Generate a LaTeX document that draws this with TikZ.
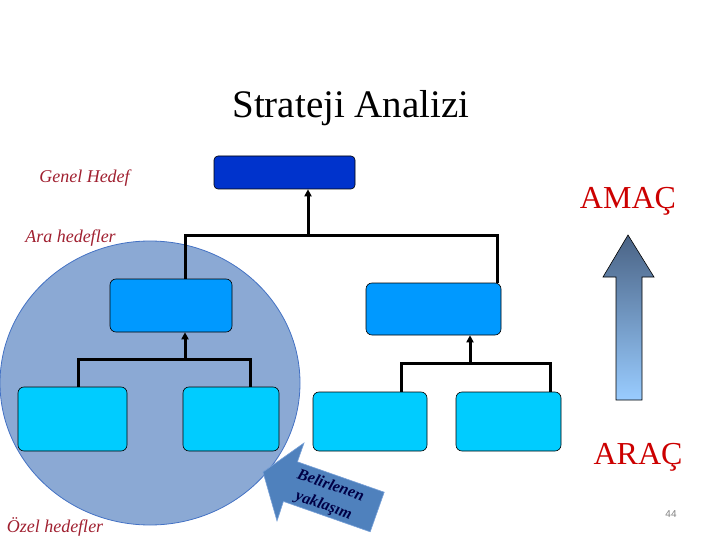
\documentclass[tikz,border=0pt]{standalone}
\usepackage{fontspec}
\setmainfont{Liberation Serif}
\setsansfont{Liberation Sans}
\usetikzlibrary{arrows.meta}
\definecolor{topblue}{RGB}{0,51,204}
\definecolor{midblue}{RGB}{0,153,255}
\definecolor{lowblue}{RGB}{0,204,255}
\definecolor{circfill}{RGB}{139,169,212}
\definecolor{circline}{RGB}{68,114,196}
\definecolor{labred}{RGB}{160,32,48}
\definecolor{bigred}{RGB}{204,0,0}
\definecolor{yakfill}{RGB}{79,129,189}
\definecolor{yakline}{RGB}{120,160,215}
\definecolor{yaktext}{RGB}{0,0,70}
\definecolor{shadetop}{RGB}{74,99,133}
\definecolor{shadebot}{RGB}{153,204,255}

\begin{document}
\begin{tikzpicture}[x=1pt,y=-1pt]
  \tikzstyle{goal}=[draw,line width=0.6pt,rounded corners=6pt,inner sep=0pt]
  \tikzstyle{lab}=[font=\fontsize{18}{20}\selectfont\itshape,text=labred,anchor=base]
  \tikzstyle{big}=[font=\fontsize{32}{36}\selectfont,text=bigred,anchor=base]
  \tikzstyle{conn}=[line width=3pt]
  \tikzstyle{up}=[conn,-{Triangle[width=7pt,length=7pt]}]
  \useasboundingbox (0,0) rectangle (720,540);
  % background circle round the lower goals
  \draw [fill=circfill,draw=circline,line width=0.8pt] (150,383) ellipse [x radius=150,y radius=142];
  \node [font=\fontsize{39}{44}\selectfont,anchor=base] (title) at (351,118) {Strateji Analizi};
  \node [lab] (genel) at (84.5,183) {Genel Hedef};
  \node [lab] (ara) at (70.5,243) {Ara hedefler};
  \node [lab] (ozel) at (55,532) {Özel hedefler};
  \node [big] (amac) at (628,208) {AMAÇ};
  \node [big] (arac) at (638,464) {ARAÇ};
  \node [font=\sffamily\fontsize{10}{12}\selectfont,text=gray] (page) at (671,514) {44};
  % goal boxes
  \node [goal,fill=topblue,rounded corners=4pt,minimum width=141pt,minimum height=33pt] (top) at (284.5,172.5) {};
  \node [goal,fill=midblue,minimum width=122pt,minimum height=53pt] (midL) at (171,305.5) {};
  \node [goal,fill=midblue,minimum width=135pt,minimum height=52pt] (midR) at (433.5,309) {};
  \node [goal,fill=lowblue,minimum width=109pt,minimum height=64pt] (lowA) at (72.5,419) {};
  \node [goal,fill=lowblue,minimum width=96pt,minimum height=64pt] (lowB) at (231,419) {};
  \node [goal,fill=lowblue,minimum width=114pt,minimum height=59pt] (lowC) at (370,421.5) {};
  \node [goal,fill=lowblue,minimum width=105pt,minimum height=59pt] (lowD) at (508.5,421.5) {};
  % tree connectors
  \coordinate (j1) at (308,235);
  \coordinate (b1) at (185,235);
  \coordinate (b2) at (497,235);
  \draw [conn] (b1 |- midL.north) -- (b1) -- (b2) -- (b2 |- midR.north);
  \draw [up] (j1) -- (j1 |- top.south);
  \coordinate (j2) at (185,359);
  \coordinate (c1) at (78,359);
  \coordinate (c2) at (250,359);
  \draw [conn] (c1 |- lowA.north) -- (c1) -- (c2) -- (c2 |- lowB.north);
  \draw [up] (j2) -- (j2 |- midL.south);
  \coordinate (j3) at (470,363);
  \coordinate (c3) at (401,363);
  \coordinate (c4) at (550,363);
  \draw [conn] (c3 |- lowC.north) -- (c3) -- (c4) -- (c4 |- lowD.north);
  \draw [up] (j3) -- (j3 |- midR.south);
  % rising arrow between ARAÇ and AMAÇ
  \draw [top color=shadetop,bottom color=shadebot,line width=0.6pt]
    (628,235) -- (654,277) -- (642,277) -- (642,400) -- (616,400) -- (616,277) -- (603,277) -- cycle;
  % block arrow pointing at the circle
  \draw [fill=yakfill,draw=yakline,line width=0.6pt]
    (263,472) -- (304,443) -- (297.4,461.8) -- (384.2,492.2) -- (370.2,531.8) -- (283.4,501.4) -- (277,521) -- cycle;
  \node [font=\fontsize{16}{21}\selectfont\bfseries\itshape,text=yaktext,align=center,rotate=-19.3] (yak) at (327,496) {Belirlenen\\yaklaşım};
\end{tikzpicture}
\end{document}
